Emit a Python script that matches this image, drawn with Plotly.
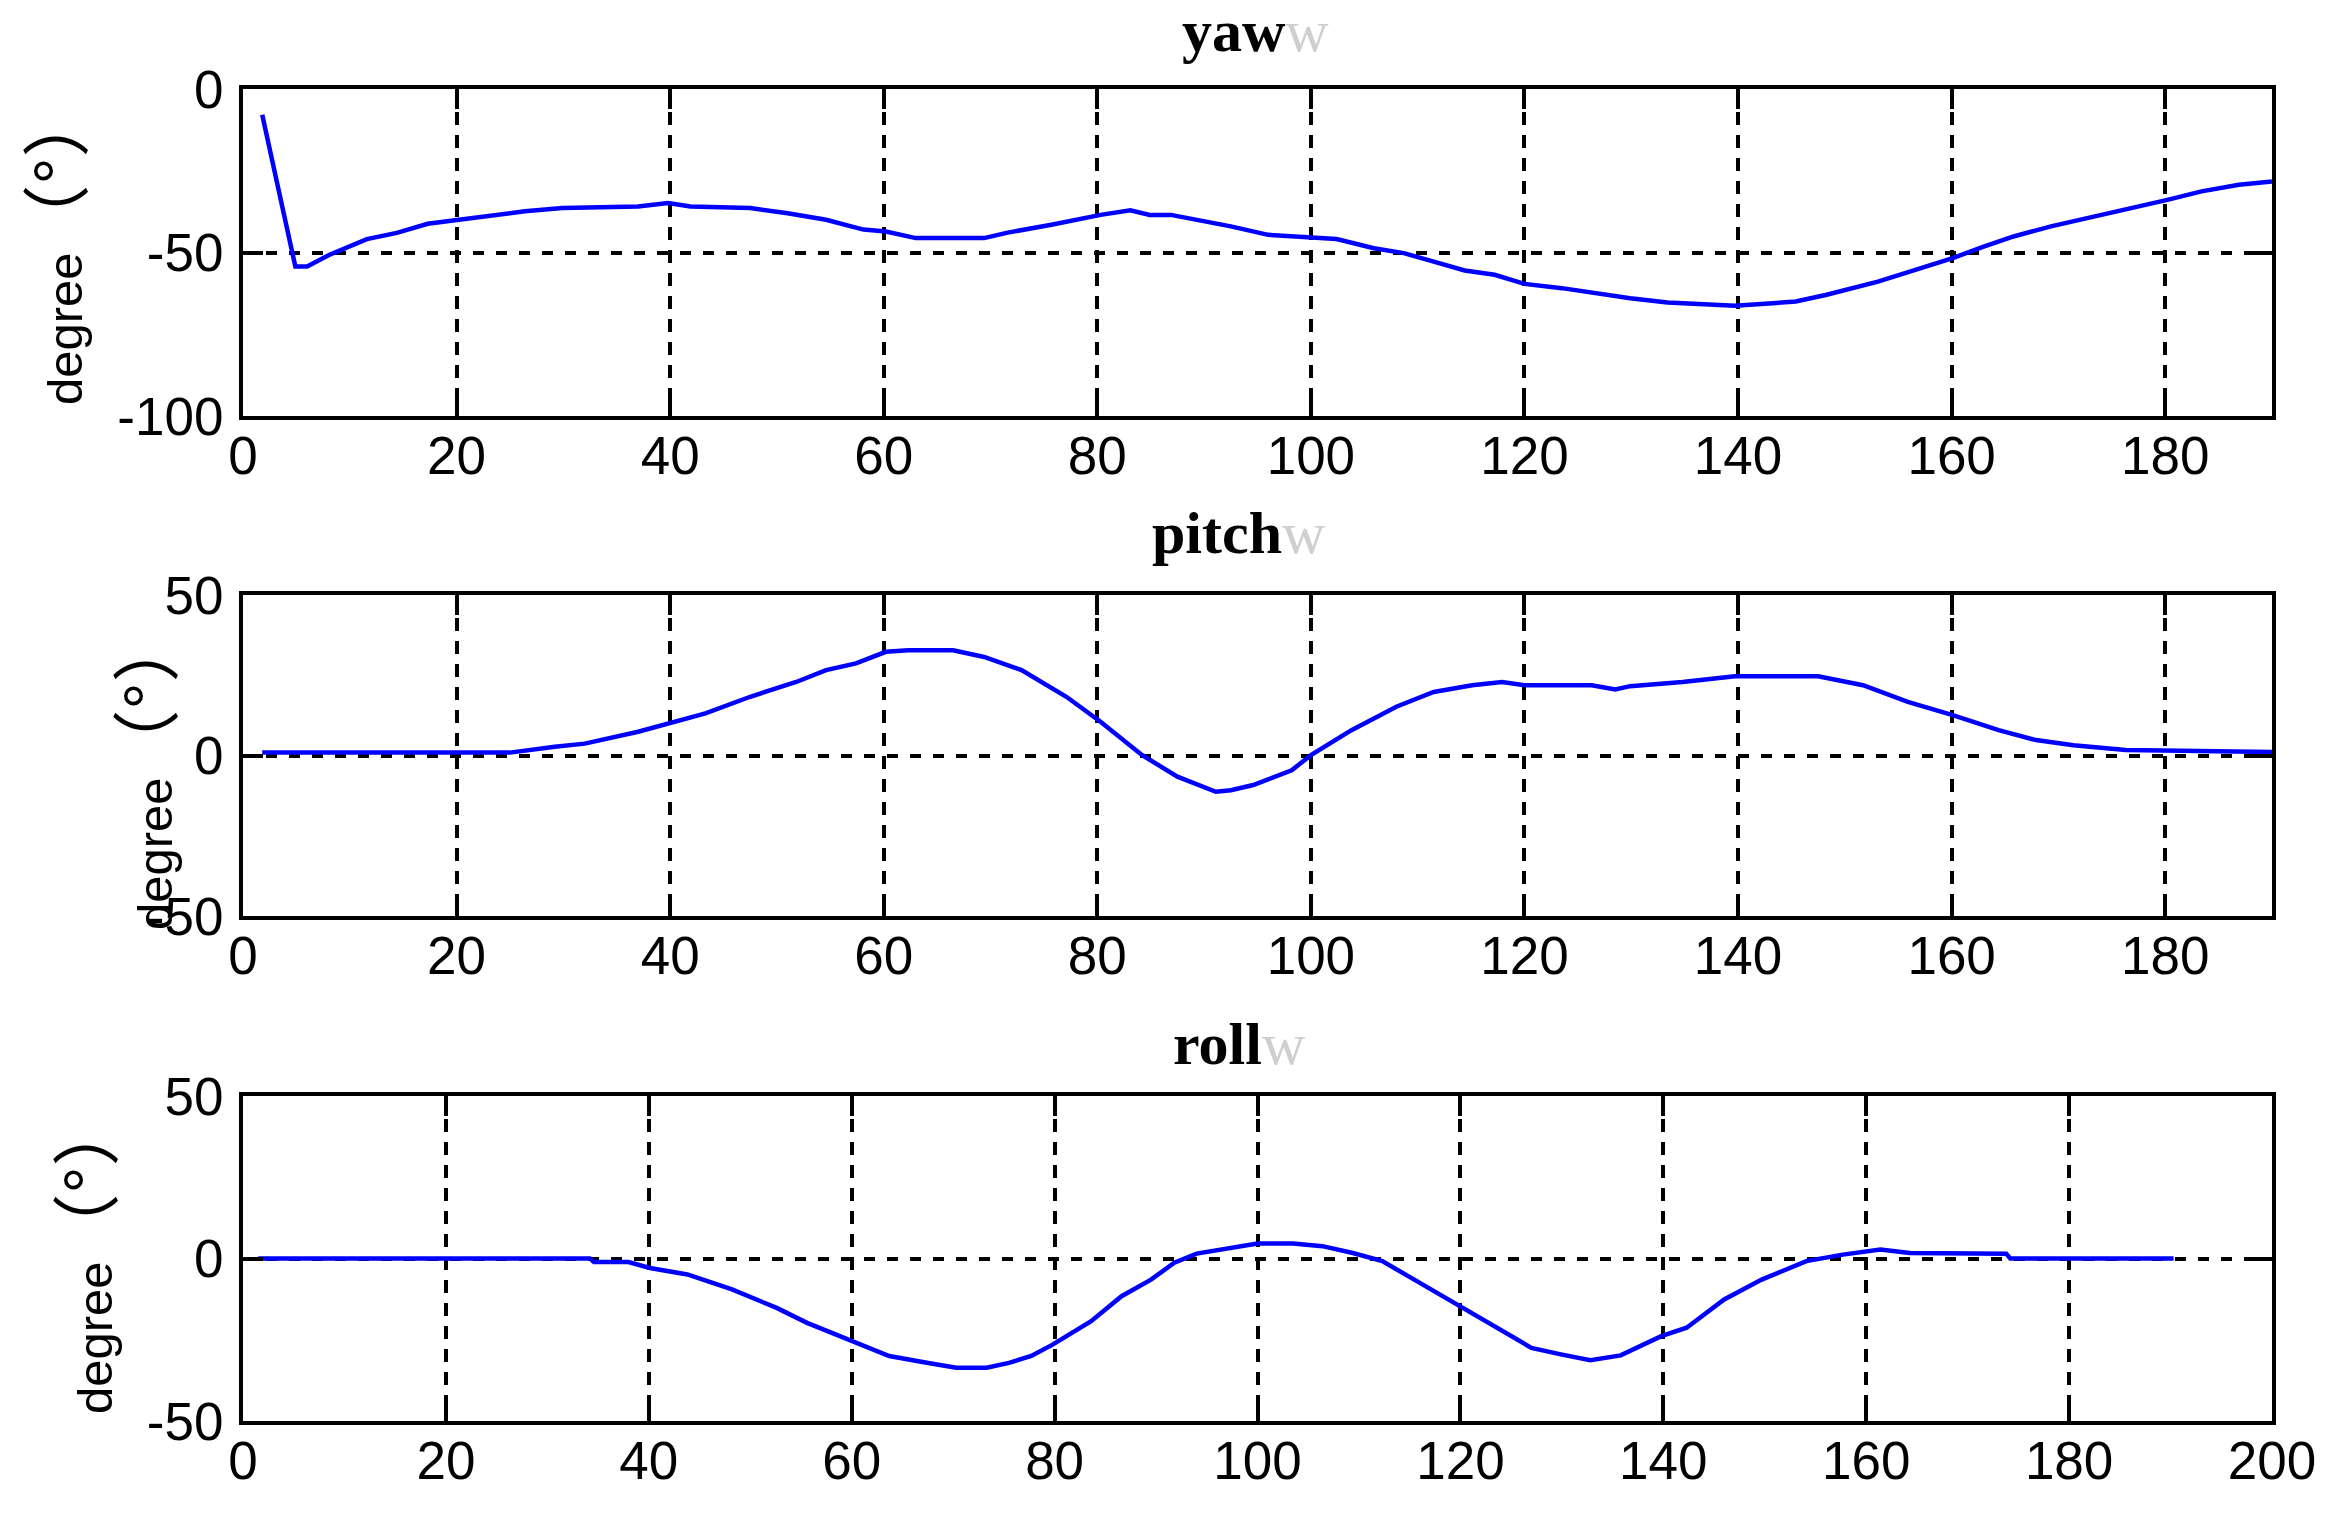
import plotly.graph_objects as go

# yaw curve
yaw_t = [1.8, 3.5, 4.9, 6.0, 8.1, 11.6, 14.4, 17.3, 20.0, 22.9, 26.4, 29.9, 37.0, 39.8,
         41.9, 47.5, 51.0, 54.6, 58.1, 60.2, 63.0, 69.4, 71.5, 75.7, 80.3, 83.1, 84.9,
         86.9, 92.5, 96.0, 100.0, 102.4, 105.9, 108.7, 111.5, 114.4, 117.2, 120.0,
         123.5, 126.3, 129.9, 133.4, 139.7, 145.4, 148.2, 153.1, 156.0, 160.1, 163.0,
         165.8, 169.3, 172.8, 176.3, 180.2, 183.4, 186.9, 190.0]
yaw = [-7.9, -33.9, -54.3, -54.3, -50.7, -45.9, -44.0, -41.2, -40.0, -38.8, -37.4, -36.4,
       -35.9, -34.9, -35.9, -36.4, -38.0, -40.0, -43.0, -43.6, -45.6, -45.6, -44.0, -41.5,
       -38.5, -37.1, -38.5, -38.5, -42.0, -44.6, -45.6, -45.9, -48.7, -50.2, -52.8, -55.5,
       -56.8, -59.6, -60.9, -62.4, -64.0, -65.3, -66.3, -65.0, -63.0, -58.9, -55.8, -51.7,
       -48.2, -45.1, -42.0, -39.5, -36.9, -33.9, -31.3, -29.3, -28.3]

# pitch curve
pitch_t = [1.8, 25.0, 29.2, 32.0, 37.0, 40.0, 43.3, 47.5, 51.8, 54.6, 57.4, 60.2, 62.3,
           66.5, 69.4, 72.9, 77.1, 80.3, 84.2, 87.5, 91.1, 92.5, 94.6, 98.2, 100.0, 103.8,
           108.0, 111.5, 115.1, 117.9, 120.0, 126.3, 128.5, 129.9, 134.8, 139.7, 147.5,
           151.7, 155.9, 160.1, 164.4, 167.9, 171.4, 176.3, 190.0]
pitch = [0.9, 0.9, 2.7, 3.7, 7.4, 10.0, 13.1, 18.3, 22.9, 26.6, 28.7, 32.3, 32.8, 32.8,
         30.7, 26.6, 18.3, 10.5, 0.1, -6.6, -11.3, -10.8, -9.2, -4.6, 0.1, 7.9, 15.2, 19.8,
         21.9, 22.9, 21.9, 21.9, 20.6, 21.6, 22.9, 24.7, 24.7, 21.9, 16.7, 12.6, 7.9, 4.8,
         3.2, 1.7, 1.1]

# roll curve
roll_t = [1.5, 34.2, 34.6, 38.0, 40.1, 43.8, 48.2, 52.6, 55.6, 60.0, 63.7, 67.4, 70.3,
          73.3, 75.5, 77.7, 79.8, 83.6, 86.6, 89.5, 91.8, 94.0, 96.2, 100.0, 103.5, 106.4,
          109.4, 112.3, 116.0, 120.0, 124.0, 127.0, 129.9, 132.8, 135.8, 139.8, 142.3,
          146.0, 149.7, 154.1, 157.7, 161.4, 164.3, 173.8, 174.2, 190.3]
roll = [0.0, 0.0, -1.1, -1.1, -2.9, -4.9, -9.5, -15.2, -19.8, -25.4, -30.0, -32.1, -33.6,
        -33.6, -32.1, -30.0, -26.5, -19.3, -11.6, -6.5, -1.3, 1.5, 2.6, 4.6, 4.6, 3.8, 1.7,
        -0.8, -7.5, -14.7, -21.9, -27.5, -29.5, -31.3, -29.8, -23.9, -21.3, -12.6, -6.5,
        -0.8, 1.2, 2.8, 1.7, 1.5, 0.0, 0.0]

titles = ["yaw", "pitch", "roll"]
x_ranges = [[0, 190], [0, 190], [0, 200]]
y_ranges = [[-100, 0], [-50, 50], [-50, 50]]
y_ticks = [[-100, -50, 0], [-50, 0, 50], [-50, 0, 50]]
y_ticklabels = [["-100", "-50", "0"], ["-50", "0", "50"], ["-50", "0", "50"]]

# the page body has an 8px margin, so the figure is a bit smaller than the window
OFF = 8
W, H = 2342 - OFF, 1519 - OFF


def px(x):
    return (x - OFF) / W


def py(y):
    return 1 - (y - OFF) / H


x_dom = [px(243), px(2272)]
y_doms = [[py(416), py(89)], [py(916), py(595)], [py(1421), py(1096)]]

fig = go.Figure()
series = [(yaw_t, yaw), (pitch_t, pitch), (roll_t, roll)]
for i, (t, v) in enumerate(series):
    sfx = "" if i == 0 else str(i + 1)
    fig.add_trace(go.Scatter(x=t, y=v, mode="lines", line=dict(color="#0000ff", width=4.5),
                             xaxis="x" + sfx, yaxis="y" + sfx, showlegend=False))

tick_font = dict(family="Liberation Sans, Arial, sans-serif", size=53, color="black")
layout = dict(width=W, height=H, margin=dict(l=0, r=0, t=0, b=0),
              paper_bgcolor="white", plot_bgcolor="white", showlegend=False)
for i in range(3):
    sfx = "" if i == 0 else str(i + 1)
    layout["xaxis" + sfx] = dict(
        domain=x_dom, anchor="y" + sfx, range=x_ranges[i], dtick=20, tick0=0,
        showline=True, linecolor="black", linewidth=4, mirror="ticks",
        ticks="inside", ticklen=20, tickwidth=3.5, tickcolor="black",
        showgrid=True, gridcolor="black", gridwidth=3.5, griddash="13px,10px",
        zeroline=False, tickfont=tick_font, ticklabelstandoff=-10, automargin=False)
    layout["yaxis" + sfx] = dict(
        domain=y_doms[i], anchor="x" + sfx, range=y_ranges[i],
        tickvals=y_ticks[i], ticktext=y_ticklabels[i],
        showline=True, linecolor="black", linewidth=4, mirror="ticks",
        ticks="inside", ticklen=20, tickwidth=3.5, tickcolor="black",
        showgrid=True, gridcolor="black", gridwidth=3.5, griddash="11px,12px",
        zeroline=False, tickfont=tick_font, ticklabelstandoff=5, automargin=False)
fig.update_layout(**layout)

# panel titles, each with the faint grey "w" seen after it
title_pos = [(1180, 31), (1150, 533), (1171, 1044)]
for name, (tx, ty) in zip(titles, title_pos):
    fig.add_annotation(
        x=px(tx), y=py(ty), xref="paper", yref="paper", xanchor="left", yanchor="middle",
        text="<b>" + name + "</b><span style='color:#cfcfcf'>w</span>", showarrow=False,
        font=dict(family="Liberation Serif, Times New Roman, serif", size=60, color="black"))

# y labels: "degree" plus full-width brackets around the degree sign
y_label = "degree<span style='font-size:68px'>（°）</span>"
ylab_pos = [(58, 247), (148, 772), (88, 1256)]
for lx, ly in ylab_pos:
    fig.add_annotation(
        x=px(lx), y=py(ly), xref="paper", yref="paper", xanchor="center", yanchor="middle",
        text=y_label, textangle=-90, showarrow=False,
        font=dict(family="Liberation Sans, Noto Sans CJK SC, sans-serif", size=49, color="black"))

fig.write_html("out.html")
